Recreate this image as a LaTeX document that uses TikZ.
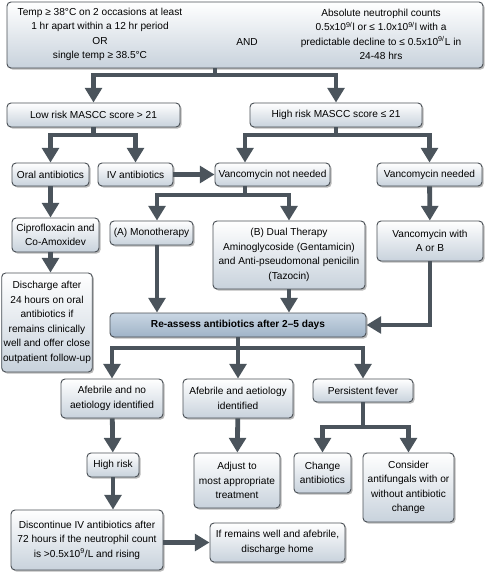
\documentclass[tikz,border=0pt]{standalone}
\usepackage{fontspec}
\setmainfont{Liberation Sans}
\usetikzlibrary{arrows.meta, shadows, calc}

\definecolor{linegrey}{HTML}{4B545C}
\definecolor{boxedge}{HTML}{4A5056}
\definecolor{boxlow}{HTML}{C8D2DC}
\definecolor{keytop}{HTML}{C9D6E3}
\definecolor{keylow}{HTML}{9FB3C7}
\newdimen\px \px=0.75pt

\begin{document}
\begin{tikzpicture}[
        x=0.75pt, y=-0.75pt,
        font=\fontsize{7.6}{10.9}\selectfont,
        box/.style={
            draw=boxedge, line width=0.7pt, rounded corners=3pt,
            top color=white, bottom color=boxlow, align=center, inner sep=1pt,
            drop shadow={shadow xshift=1.2pt, shadow yshift=-1.2pt, opacity=0.55}
        },
        keybox/.style={box, top color=keytop, bottom color=keylow, font=\fontsize{7.6}{10.9}\selectfont\bfseries},
        wh/.style 2 args={minimum width=#1\px, minimum height=#2\px},
        line/.style={draw=linegrey, line width=3.6pt},
        arrow/.style={line, -{Triangle[width=12.5pt, length=11pt]}}
    ]
        \useasboundingbox (0,0) rectangle (488,574);

        % Entry criteria
        \node[box, wh={476}{66}] (entry) at (245,35) {};
        \node[align=center] (fever) at (100,34.5) {
            Temp ≥ 38°C on 2 occasions at least\\
            1 hr apart within a 12 hr period\\
            OR\\
            single temp ≥ 38.5°C};
        \node (and) at (247,42) {AND};
        \node[align=center] (counts) at (381,34.5) {
            Absolute neutrophil counts\\
            0.5x10\textsuperscript{9/}l or ≤ 1.0x10\textsuperscript{9/}l with a\\
            predictable decline to ≤ 0.5x10\textsuperscript{9/}L in\\
            24-48 hrs};

        % Risk
        \node[box, wh={173}{24}] (low) at (93.5,115) {Low risk MASCC score > 21};
        \node[box, wh={172}{24}] (high) at (336,115) {High risk MASCC score ≤ 21};

        % Route / vancomycin
        \node[box, wh={77}{23}] (oral) at (50.5,174.5) {Oral antibiotics};
        \node[box, wh={75}{23}] (iv) at (135.5,174.5) {IV antibiotics};
        \node[box, wh={115}{23}] (vnn) at (272.5,174.5) {Vancomycin not needed};
        \node[box, wh={105}{23}] (vn) at (429.5,174.5) {Vancomycin needed};

        % Treatment
        \node[box, wh={87}{34}] (cipro) at (55.5,235) {Ciprofloxacin and\\Co-Amoxidev};
        \node[box, wh={83}{24}] (mono) at (151.5,233) {(A) Monotherapy};
        \node[box, wh={152}{68}] (dual) at (289,255) {
            (B) Dual Therapy\\
            Aminoglycoside (Gentamicin)\\
            and Anti-pseudomonal penicilin\\
            (Tazocin)};
        \node[box, wh={106}{40}] (vw) at (430,241) {Vancomycin with\\A or B};
        \node[box, wh={90}{99}] (discharge) at (47,322.5) {
            Discharge after\\
            24 hours on oral\\
            antibiotics if\\
            remains clinically\\
            well and offer close\\
            outpatient follow-up};

        % Re-assess
        \node[keybox, wh={256}{24}] (reassess) at (238,325) {Re-assess antibiotics after 2–5 days};

        % Outcome
        \node[box, wh={102}{39}] (afno) at (112,398.5) {Afebrile and no\\aetiology identified};
        \node[box, wh={110}{39}] (afid) at (238,398.5) {Afebrile and aetiology\\identified};
        \node[box, wh={100}{23}] (pf) at (363,390.5) {Persistent fever};
        \node[box, wh={52}{24}] (highrisk) at (113,465) {High risk};
        \node[box, wh={86}{55}] (adjust) at (237,480.5) {Adjust to\\most appropriate\\treatment};
        \node[box, wh={57}{40}] (change) at (322.5,473) {Change\\antibiotics};
        \node[box, wh={91}{69}] (consider) at (408.5,487.5) {
            Consider\\
            antifungals with or\\
            without antibiotic\\
            change};
        \node[box, wh={152}{60}] (discont) at (87,540) {
            Discontinue IV antibiotics after\\
            72 hours if the neutrophil count\\
            is >0.5x10\textsuperscript{9}/L and rising};
        \node[box, wh={135}{39}] (remains) at (277.5,542.5) {If remains well and afebrile,\\discharge home};

        % Split points
        \coordinate (esplit) at (215,75);
        \coordinate (lsplit) at (93.5,135);
        \coordinate (hsplit) at (336,135);
        \coordinate (vnnin) at (245,135);
        \coordinate (vsplit) at (245,195);
        \coordinate (monoin) at (157,195);
        \coordinate (rsplit) at (238,348);
        \coordinate (psplit) at (363,427);

        % Arrows
        \draw[line] (esplit |- entry.south) -- (esplit);
        \draw[arrow] (esplit) -| (low);
        \draw[arrow] (esplit) -| (high);

        \draw[line] (low) -- (lsplit);
        \draw[arrow] (lsplit) -| (oral);
        \draw[arrow] (lsplit) -| (iv);

        \draw[line] (high) -- (hsplit);
        \draw[arrow] (hsplit) -- (vnnin) -- (vnnin |- vnn.north);
        \draw[arrow] (hsplit) -| (vn);
        \draw[arrow] (iv) -- (vnn);

        \draw[line] (vsplit |- vnn.south) -- (vsplit);
        \draw[arrow] (vsplit) -| (monoin |- mono.north);
        \draw[arrow] (vsplit) -| (dual);
        \draw[arrow] (vn) -- (vw);

        \draw[arrow] (oral.south) -- (oral.south |- cipro.north);
        \draw[arrow] (oral.south |- cipro.south) -- (oral.south |- discharge.north);

        \draw[arrow] (monoin |- mono.south) -- (monoin |- reassess.north);
        \draw[arrow] (dual.south) -- (dual.south |- reassess.north);
        \draw[arrow] (vw.south) |- (reassess.east);

        \draw[line] (reassess) -- (rsplit);
        \draw[arrow] (rsplit) -| (afno);
        \draw[arrow] (rsplit) -- (afid);
        \draw[arrow] (rsplit) -| (pf);

        \draw[arrow] (afno) -- (highrisk);
        \draw[arrow] (highrisk.south) -- (highrisk.south |- discont.north);
        \draw[arrow] (discont.east |- remains.west) -- (remains.west);
        \draw[arrow] (afid) -- (adjust);

        \draw[line] (pf) -- (psplit);
        \draw[arrow] (psplit) -| (change);
        \draw[arrow] (psplit) -| (consider);

    \end{tikzpicture}
\end{document}
